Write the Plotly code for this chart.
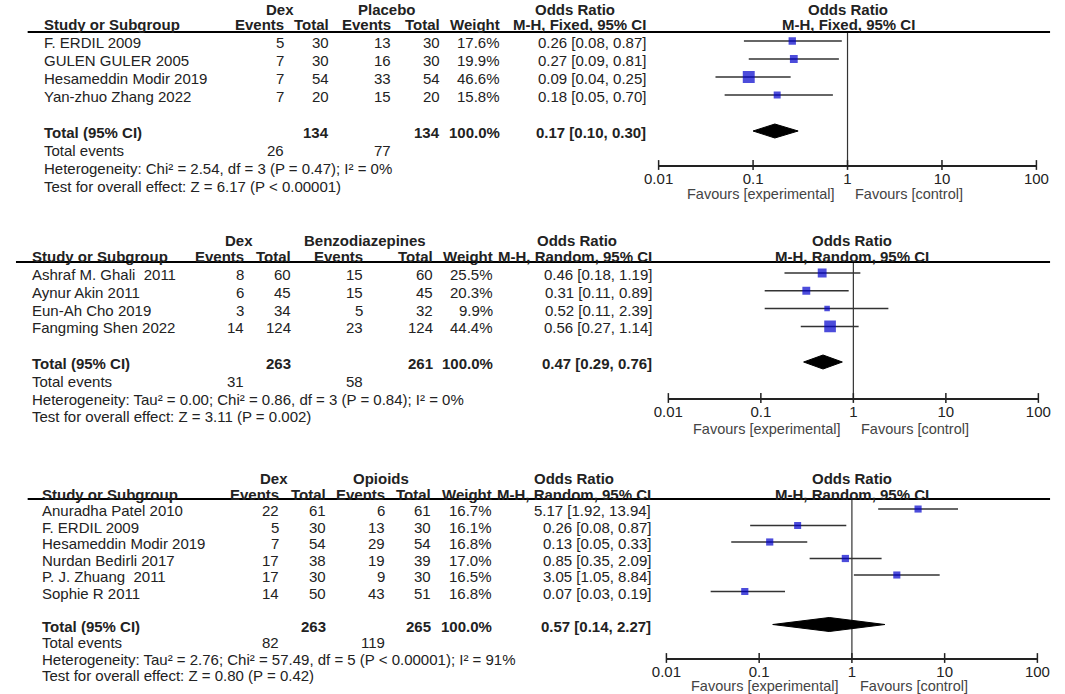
import math
import plotly.graph_objects as go

W, H = 1065, 694
FONT = "Liberation Sans, Arial, sans-serif"
FS = 15
TXT = "#222222"
BLUE = "#0000CC"
GRAY = "#333333"

# ---- data: Dex vs Placebo ----
study_1 = ["F. ERDIL 2009", "GULEN GULER 2005", "Hesameddin Modir 2019", "Yan-zhuo Zhang 2022"]
dex_ev_1 = [5, 7, 7, 7]
dex_n_1 = [30, 30, 54, 20]
ctl_ev_1 = [13, 16, 33, 15]
ctl_n_1 = [30, 30, 54, 20]
weight_1 = [17.6, 19.9, 46.6, 15.8]
or_1 = [0.26, 0.27, 0.09, 0.18]
lo_1 = [0.08, 0.09, 0.04, 0.05]
hi_1 = [0.87, 0.81, 0.25, 0.70]
total_1 = dict(dex_n=134, ctl_n=134, dex_ev=26, ctl_ev=77, est=0.17, lo=0.10, hi=0.30)
het_1 = "Heterogeneity: Chi² = 2.54, df = 3 (P = 0.47); I² = 0%"
test_1 = "Test for overall effect: Z = 6.17 (P < 0.00001)"

# ---- data: Dex vs Benzodiazepines ----
study_2 = ["Ashraf M. Ghali\u00a0 2011", "Aynur Akin 2011", "Eun-Ah Cho 2019", "Fangming Shen 2022"]
dex_ev_2 = [8, 6, 3, 14]
dex_n_2 = [60, 45, 34, 124]
ctl_ev_2 = [15, 15, 5, 23]
ctl_n_2 = [60, 45, 32, 124]
weight_2 = [25.5, 20.3, 9.9, 44.4]
or_2 = [0.46, 0.31, 0.52, 0.56]
lo_2 = [0.18, 0.11, 0.11, 0.27]
hi_2 = [1.19, 0.89, 2.39, 1.14]
total_2 = dict(dex_n=263, ctl_n=261, dex_ev=31, ctl_ev=58, est=0.47, lo=0.29, hi=0.76)
het_2 = "Heterogeneity: Tau² = 0.00; Chi² = 0.86, df = 3 (P = 0.84); I² = 0%"
test_2 = "Test for overall effect: Z = 3.11 (P = 0.002)"

# ---- data: Dex vs Opioids ----
study_3 = ["Anuradha Patel 2010", "F. ERDIL 2009", "Hesameddin Modir 2019",
           "Nurdan Bedirli 2017", "P. J. Zhuang\u00a0 2011", "Sophie R 2011"]
dex_ev_3 = [22, 5, 7, 17, 17, 14]
dex_n_3 = [61, 30, 54, 38, 30, 50]
ctl_ev_3 = [6, 13, 29, 19, 9, 43]
ctl_n_3 = [61, 30, 54, 39, 30, 51]
weight_3 = [16.7, 16.1, 16.8, 17.0, 16.5, 16.8]
or_3 = [5.17, 0.26, 0.13, 0.85, 3.05, 0.07]
lo_3 = [1.92, 0.08, 0.05, 0.35, 1.05, 0.03]
hi_3 = [13.94, 0.87, 0.33, 2.09, 8.84, 0.19]
total_3 = dict(dex_n=263, ctl_n=265, dex_ev=82, ctl_ev=119, est=0.57, lo=0.14, hi=2.27)
het_3 = "Heterogeneity: Tau² = 2.76; Chi² = 57.49, df = 5 (P < 0.00001); I² = 91%"
test_3 = "Test for overall effect: Z = 0.80 (P = 0.42)"

tick_vals = [0.01, 0.1, 1, 10, 100]
tick_text = ["0.01", "0.1", "1", "10", "100"]

# layout of each panel in pixels
panels = [
    dict(ctrl="Placebo", method="M-H, Fixed, 95% CI",
         study=study_1, dev=dex_ev_1, dn=dex_n_1, cev=ctl_ev_1, cn=ctl_n_1,
         w=weight_1, est=or_1, lo=lo_1, hi=hi_1, tot=total_1, het=het_1, test=test_1,
         top=32, bottom=165, row0=41, step=18, xdom=(661, 1049), line_left=13,
         study_x=28, cols=[278, 325, 388, 439, 500, 650], grp=[272, 382, 575],
         fcenter=856, ghead=9, shead=25, fav=194),
    dict(ctrl="Benzodiazepines", method="M-H, Random, 95% CI",
         study=study_2, dev=dex_ev_2, dn=dex_n_2, cev=ctl_ev_2, cn=ctl_n_2,
         w=weight_2, est=or_2, lo=lo_2, hi=hi_2, tot=total_2, het=het_2, test=test_2,
         top=262, bottom=398, row0=273, step=17.8, xdom=(671, 1051), line_left=1,
         study_x=15, cols=[237, 285, 359, 431, 493, 656], grp=[230, 359, 577],
         fcenter=860, ghead=240, shead=257, fav=429),
    dict(ctrl="Opioids", method="M-H, Random, 95% CI",
         study=study_3, dev=dex_ev_3, dn=dex_n_3, cev=ctl_ev_3, cn=ctl_n_3,
         w=weight_3, est=or_3, lo=lo_3, hi=hi_3, tot=total_3, het=het_3, test=test_3,
         top=499, bottom=658, row0=509, step=16.5, xdom=(669, 1050), line_left=13,
         study_x=26, cols=[273, 321, 382, 429, 492, 655], grp=[266, 376, 574],
         fcenter=860, ghead=478, shead=494, fav=686),
]


def ann(text, x_px, y_px, anchor="left", bold=False, color=TXT, size=FS):
    return dict(text=f"<b>{text}</b>" if bold else text, x=x_px / W, xref="paper",
                y=1 - y_px / H, yref="paper", xanchor=anchor, yanchor="middle",
                showarrow=False, font=dict(family=FONT, size=size, color=color))


fig = go.Figure()
annotations = []
shapes = []

for k, p in enumerate(panels, start=1):
    sfx = "" if k == 1 else str(k)
    xa, ya = "x" + sfx, "y" + sfx
    top_idx = (p["top"] - p["row0"]) / p["step"]
    bot_idx = (p["bottom"] - p["row0"]) / p["step"]
    n = len(p["study"])
    rows = list(range(n))
    t_row = n + 1

    def row_px(i, p=p):
        return p["row0"] + i * p["step"] + 1.5

    # null line
    fig.add_trace(go.Scatter(x=[1, 1], y=[top_idx, bot_idx], mode="lines",
                             line=dict(color=GRAY, width=1.2), xaxis=xa, yaxis=ya,
                             hoverinfo="skip", cliponaxis=False))
    # study estimates
    fig.add_trace(go.Scatter(
        x=p["est"], y=rows, mode="markers", xaxis=xa, yaxis=ya,
        marker=dict(symbol="square", color=BLUE, size=[1.75 * math.sqrt(v) for v in p["w"]],
                    line=dict(width=0)),
        error_x=dict(type="data", symmetric=False,
                     array=[h - e for h, e in zip(p["hi"], p["est"])],
                     arrayminus=[e - l for e, l in zip(p["est"], p["lo"])],
                     color=GRAY, thickness=1.5, width=0)))
    # pooled diamond
    t = p["tot"]
    dh = 7 / p["step"]
    fig.add_trace(go.Scatter(
        x=[t["lo"], t["est"], t["hi"], t["est"], t["lo"]],
        y=[t_row, t_row - dh, t_row, t_row + dh, t_row],
        mode="lines", fill="toself", fillcolor="black",
        line=dict(color="black", width=1), xaxis=xa, yaxis=ya))
    # tick marks crossing the axis line
    fig.add_trace(go.Scatter(x=tick_vals, y=[bot_idx] * len(tick_vals), mode="markers",
                             marker=dict(symbol="line-ns-open", size=7, color=TXT,
                                         line=dict(color=TXT, width=1.5)),
                             xaxis=xa, yaxis=ya, cliponaxis=False, hoverinfo="skip"))

    fig.update_layout({
        "xaxis" + sfx: dict(type="log", range=[-2, 2], domain=[p["xdom"][0] / W, p["xdom"][1] / W],
                            anchor=ya, showline=True, linecolor=TXT, linewidth=1.5,
                            showgrid=False, zeroline=False, tickvals=tick_vals, ticktext=tick_text,
                            ticks="", ticklabelstandoff=-1,
                            tickfont=dict(family=FONT, size=FS, color=TXT)),
        "yaxis" + sfx: dict(range=[bot_idx, top_idx], domain=[1 - p["bottom"] / H, 1 - p["top"] / H],
                            anchor=xa, visible=False, showgrid=False, zeroline=False),
    })

    # header rule
    shapes.append(dict(type="line", xref="paper", yref=ya + " domain",
                       x0=p["line_left"] / W, x1=1063 / W, y0=1, y1=1,
                       line=dict(color="black", width=2)))

    c = p["cols"]
    gy, sy = p["ghead"], p["shead"]
    annotations += [
        ann("Dex", p["grp"][0], gy, "center", True),
        ann(p["ctrl"], p["grp"][1], gy, "center", True),
        ann("Odds Ratio", p["grp"][2], gy, "center", True),
        ann("Odds Ratio", p["fcenter"], gy, "center", True),
        ann("Study or Subgroup", p["study_x"], sy, "left", True),
        ann("Events", c[0], sy, "right", True),
        ann("Total", c[1], sy, "right", True),
        ann("Events", c[2], sy, "right", True),
        ann("Total", c[3], sy, "right", True),
        ann("Weight", c[4], sy, "right", True),
        ann(p["method"], c[5], sy, "right", True),
        ann(p["method"], p["fcenter"], sy, "center", True),
    ]
    for i in rows:
        y = row_px(i)
        annotations += [
            ann(p["study"][i], p["study_x"], y),
            ann(str(p["dev"][i]), c[0], y, "right"),
            ann(str(p["dn"][i]), c[1], y, "right"),
            ann(str(p["cev"][i]), c[2], y, "right"),
            ann(str(p["cn"][i]), c[3], y, "right"),
            ann(f"{p['w'][i]:.1f}%", c[4], y, "right"),
            ann(f"{p['est'][i]:.2f} [{p['lo'][i]:.2f}, {p['hi'][i]:.2f}]", c[5], y, "right"),
        ]
    y = row_px(t_row)
    annotations += [
        ann("Total (95% CI)", p["study_x"], y, "left", True),
        ann(str(t["dex_n"]), c[1], y, "right", True),
        ann(str(t["ctl_n"]), c[3], y, "right", True),
        ann("100.0%", c[4], y, "right", True),
        ann(f"{t['est']:.2f} [{t['lo']:.2f}, {t['hi']:.2f}]", c[5], y, "right", True),
        ann("Total events", p["study_x"], row_px(t_row + 1)),
        ann(str(t["dex_ev"]), c[0], row_px(t_row + 1), "right"),
        ann(str(t["ctl_ev"]), c[2], row_px(t_row + 1), "right"),
        ann(p["het"], p["study_x"], row_px(t_row + 2)),
        ann(p["test"], p["study_x"], row_px(t_row + 3)),
    ]
    # favours labels either side of the null line
    x_null = p["xdom"][0] + (p["xdom"][1] - p["xdom"][0]) / 2
    annotations += [
        ann("Favours [experimental]", x_null - 12, p["fav"], "right", color="#444444", size=14.5),
        ann("Favours [control]", x_null + 6, p["fav"], "left", color="#444444", size=14.5),
    ]

fig.update_layout(
    width=W, height=H,
    margin=dict(l=0, r=0, t=0, b=0),
    paper_bgcolor="white", plot_bgcolor="white",
    showlegend=False, hovermode=False,
    annotations=annotations, shapes=shapes,
)

# drop the default page margin so the figure sits at the window's top-left corner
fig.write_html("out.html", config={"displayModeBar": False},
               post_script="document.body.style.margin = '0';")
